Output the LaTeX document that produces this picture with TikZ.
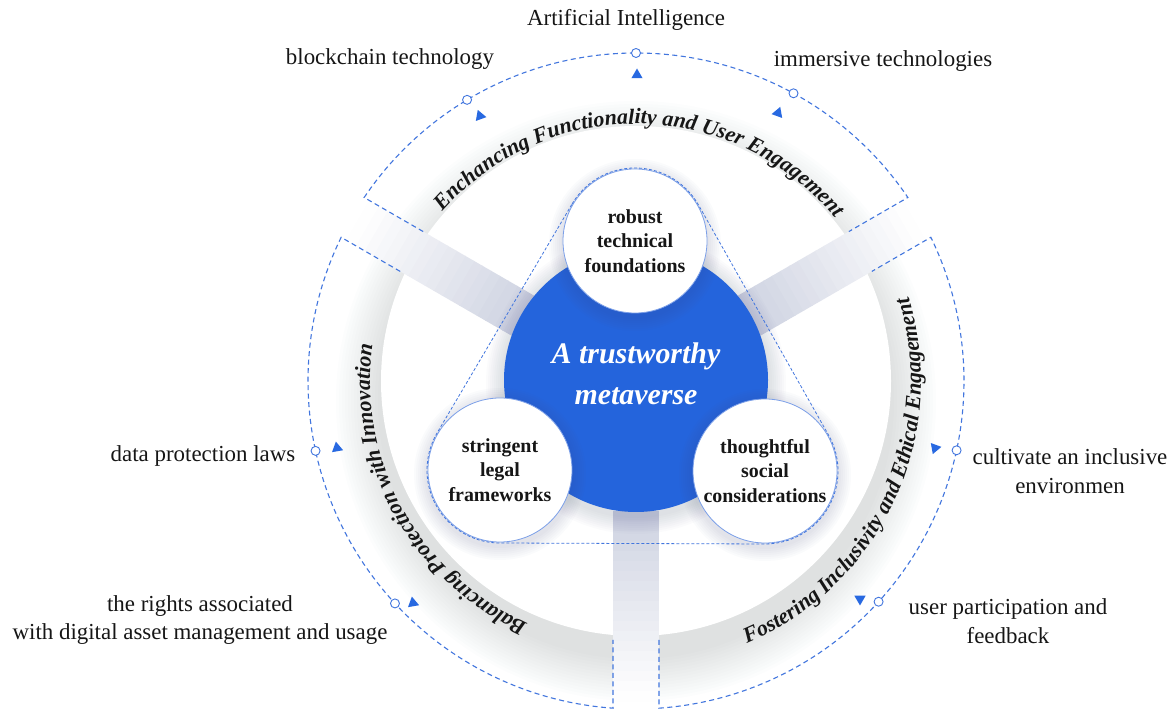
\documentclass[tikz,border=0pt]{standalone}
\usepackage{fontspec}
\setmainfont{Liberation Serif}
\usetikzlibrary{calc,decorations.text,shapes.geometric}
\definecolor{coreblue}{RGB}{36,100,220}
\definecolor{dashblue}{RGB}{66,118,222}
\definecolor{markblue}{RGB}{40,105,225}
\definecolor{spokec}{RGB}{198,203,220}
\definecolor{shadowc}{RGB}{80,90,130}
\definecolor{inkc}{RGB}{22,22,22}
\newcommand\arcfont{\fontsize{22}{26}\selectfont\bfseries\itshape}
\begin{document}
\begin{tikzpicture}[x=1bp,y=1bp,
  outline/.style={draw=dashblue, line width=1.1bp, dash pattern=on 5bp off 3.5bp},
  hullline/.style={draw=dashblue, line width=0.8bp, dash pattern=on 3bp off 2bp},
  ringmark/.style={circle, draw=dashblue, fill=white, line width=0.9bp, minimum size=9bp, inner sep=0pt},
  trimark/.style={regular polygon, regular polygon sides=3, fill=markblue, minimum size=13bp, inner sep=0pt},
  lbl/.style={font=\fontsize{23}{29}\selectfont, text=inkc, align=center, inner sep=0pt},
  pillar/.style={circle, fill=white, draw=dashblue!70, line width=0.8bp, minimum size=144bp, inner sep=0pt, align=center, font=\fontsize{20}{24.5}\selectfont\bfseries, text=inkc},
  core/.style={circle, fill=coreblue, minimum size=264bp, inner sep=0pt},
  coretext/.style={align=center, text=white, font=\fontsize{30}{41}\selectfont\bfseries\itshape, inner sep=0pt},
  arctext/.style={decorate, decoration={text along path, text align=center, text color=inkc, text={|\arcfont|#1}}}
]
\useasboundingbox (0,0) rectangle (1174,711);
\fill[white] (0,0) rectangle (1174,711);
\coordinate (C) at (636,330);
\coordinate (T) at (635,470);
\coordinate (L) at (500,241);
\coordinate (R) at (765,240);

% ring shadow (cast downwards)
\foreach \r in {300,297,...,258} {
  \fill[shadowc, opacity=0.01] ($(C)+(0,-20)$) circle (\r);
}
\fill[white] (C) circle (255);

% spokes
\foreach \ang in {150,30,270} {
  \foreach \k in {0,...,18} {
    \pgfmathtruncatemacro\ra{130+10*\k}
    \pgfmathtruncatemacro\rb{\ra+11}
    \pgfmathtruncatemacro\pc{85-4.6*\k}
    \begin{scope}[shift={(C)}, rotate=\ang]
      \fill[spokec!\pc!white] (\ra,-23) rectangle (\rb,23);
    \end{scope}
  }
}

% sector outlines
\draw[outline] ($(C)+(150:259)+(60:23)$) -- ($(C)+(145.98:328)$)
  arc[start angle=145.98, end angle=34.02, radius=328] -- ($(C)+(30:259)+(120:23)$);
\draw[outline] ($(C)+(150:259)+(240:23)$) -- ($(C)+(154.02:328)$)
  arc[start angle=154.02, end angle=265.98, radius=328] -- ($(C)+(270:259)+(180:23)$);
\draw[outline] ($(C)+(270:259)+(0:23)$) -- ($(C)+(274.02:328)$)
  arc[start angle=274.02, end angle=385.98, radius=328] -- ($(C)+(30:259)+(300:23)$);

% markers
\node[ringmark] (mAI) at ($(C)+(90:328)$) {};
\node[ringmark] (mBC) at ($(C)+(121:328)$) {};
\node[ringmark] (mIM) at ($(C)+(61.3:328)$) {};
\node[ringmark] (mDP) at ($(C)+(192.3:328)$) {};
\node[ringmark] (mRA) at ($(C)+(222.7:328)$) {};
\node[ringmark] (mCI) at ($(C)+(347.8:328)$) {};
\node[ringmark] (mUP) at ($(C)+(317.7:328)$) {};

\node[trimark] (tAI) at (637,636) {};
\node[trimark, rotate=-100] (tBC) at (480,595) {};
\node[trimark, rotate=100] (tIM) at (778,598) {};
\node[trimark, rotate=10] (tDP) at (337,263) {};
\node[trimark, rotate=10] (tRA) at (413,108) {};
\node[trimark, rotate=-80] (tCI) at (935,263) {};
\node[trimark, rotate=-60] (tUP) at (860,112) {};

% labels
\node[lbl] (lAI) at (626,691) {Artificial Intelligence};
\node[lbl] (lBC) at (390,652) {blockchain technology};
\node[lbl] (lIM) at (883,650) {immersive technologies};
\node[lbl] (lDP) at (203,255) {data protection laws};
\node[lbl] (lRA) at (200,91) {the rights associated\\with digital asset management and usage};
\node[lbl] (lCI) at (1070,240) {cultivate an inclusive\\environmen};
\node[lbl] (lUP) at (1008,90) {user participation and\\feedback};

% core halo and core
\foreach \r in {150,148,...,134} {
  \fill[shadowc, opacity=0.02] ($(C)+(0,-3)$) circle (\r);
}
\node[core] (core) at (636,331) {};
\node[coretext] (coreT) at (636,337) {A trustworthy\\metaverse};

% pillar shadows
\foreach \p in {T,L,R} {
  \foreach \r in {86,84,...,73} {
    \fill[shadowc, opacity=0.025] ($(\p)+(0,-4)$) circle (\r);
  }
}
\node[pillar] (tech) at (T) {robust\\technical\\foundations};
\node[pillar] (legal) at (L) {stringent\\legal\\frameworks};
\node[pillar] (social) at (R) {thoughtful\\social\\considerations};

% dashed hull
\draw[hullline] ($(T)+(149.5:73)$) arc[start angle=149.5, end angle=29.5, radius=73]
  -- ($(R)+(29.5:73)$) arc[start angle=29.5, end angle=-90, radius=73]
  -- ($(L)+(-90:73)$) arc[start angle=270, end angle=149.5, radius=73] -- cycle;

% arc texts
\path[arctext={Enchancing Functionality and User Engagement}]
  ($(C)+(169:257)$) arc[start angle=169, end angle=9, radius=257];
\path[arctext={Balancing Protection with Innovation}]
  ($(C)+(289:266)$) arc[start angle=289, end angle=129, radius=266];
\path[arctext={Fostering Inclusivity and Ethical Engagement}]
  ($(C)+(255:285)$) arc[start angle=255, end angle=415, radius=285];
\end{tikzpicture}
\end{document}
